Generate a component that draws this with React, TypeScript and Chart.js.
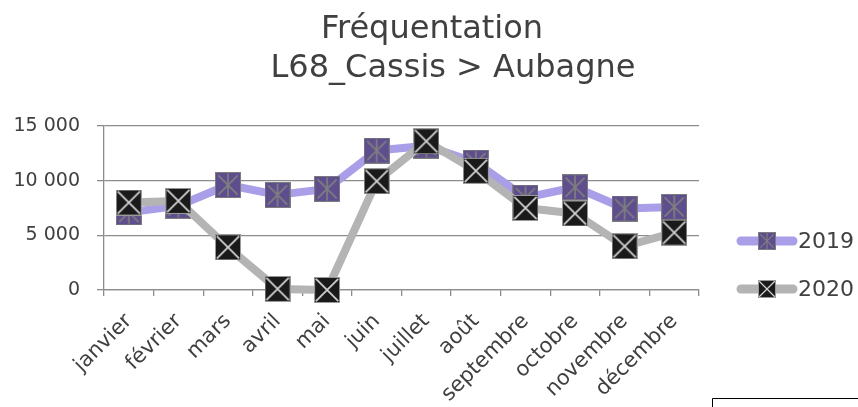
import React, { useEffect, useRef } from 'react';
import { Chart, registerables } from 'chart.js';

Chart.register(...registerables);

const months = ['janvier', 'février', 'mars', 'avril', 'mai', 'juin', 'juillet', 'août', 'septembre', 'octobre', 'novembre', 'décembre'];
const values2019 = [7100, 7700, 9600, 8700, 9250, 12750, 13200, 11650, 8450, 9400, 7450, 7600];
const values2020 = [8000, 8150, 3900, 100, 0, 9950, 13600, 10900, 7500, 7000, 4000, 5250];
const seriesNames = ['2019', '2020'];
const titleLines = ['Fréquentation', 'L68_Cassis > Aubagne'];
const yMin = 0;
const yMax = 15000;
const yStep = 5000;

const FONT = '"DejaVu Sans", sans-serif';
const TEXT = '#404040';
const GRID = '#8c8c8c';
const LINE_2019 = '#a99ee8';
const LINE_2020 = '#b4b4b4';

function makeMarker(size: number, fill: string, border: string, lineColor: string, star: boolean) {
  const c = document.createElement('canvas');
  c.width = size;
  c.height = size;
  const ctx = c.getContext('2d')!;
  ctx.fillStyle = fill;
  ctx.fillRect(0, 0, size, size);
  ctx.strokeStyle = border;
  ctx.lineWidth = 1;
  ctx.strokeRect(0.5, 0.5, size - 1, size - 1);
  ctx.strokeStyle = lineColor;
  ctx.lineWidth = Math.max(1, size / 15);
  const m = star ? size * 0.13 : size * 0.07;
  ctx.beginPath();
  ctx.moveTo(m, m);
  ctx.lineTo(size - m, size - m);
  ctx.moveTo(size - m, m);
  ctx.lineTo(m, size - m);
  if (star) {
    ctx.moveTo(size / 2, size * 0.06);
    ctx.lineTo(size / 2, size * 0.94);
  }
  ctx.stroke();
  return c;
}

function fmt(v: number) {
  return String(v).replace(/\B(?=(\d{3})+(?!\d))/g, ' ');
}

export default function App() {
  const ref = useRef<HTMLCanvasElement | null>(null);

  useEffect(() => {
    if (!ref.current) return;
    const m2019 = makeMarker(26, '#5e4e8e', '#7d7d7d', '#7f7f7f', true);
    const m2020 = makeMarker(26, '#1a1a1a', '#9a9a9a', '#d4d4d4', false);
    const l2019 = makeMarker(18, '#5e4e8e', '#7d7d7d', '#7f7f7f', true);
    const l2020 = makeMarker(18, '#1a1a1a', '#9a9a9a', '#d4d4d4', false);

    const decor = {
      id: 'decor',
      afterDraw(chart: any) {
        const ctx = chart.ctx;
        ctx.save();
        // title
        ctx.fillStyle = TEXT;
        ctx.font = `32px ${FONT}`;
        ctx.textAlign = 'center';
        ctx.textBaseline = 'alphabetic';
        ctx.fillText(titleLines[0], 432, 38);
        ctx.fillText(titleLines[1], 453, 77);
        // legend
        const items = [
          { name: seriesNames[0], color: LINE_2019, marker: l2019, y: 241 },
          { name: seriesNames[1], color: LINE_2020, marker: l2020, y: 289 },
        ];
        items.forEach((it) => {
          ctx.strokeStyle = it.color;
          ctx.lineWidth = 9;
          ctx.lineCap = 'round';
          ctx.beginPath();
          ctx.moveTo(741, it.y);
          ctx.lineTo(793, it.y);
          ctx.stroke();
          ctx.drawImage(it.marker, 767 - 9, it.y - 9, 18, 18);
          ctx.fillStyle = TEXT;
          ctx.font = `22px ${FONT}`;
          ctx.textAlign = 'left';
          ctx.textBaseline = 'middle';
          ctx.fillText(it.name, 798, it.y + 1);
        });
        // box at bottom right
        ctx.strokeStyle = '#000000';
        ctx.lineWidth = 1;
        ctx.lineCap = 'butt';
        ctx.beginPath();
        ctx.moveTo(712.5, 408);
        ctx.lineTo(712.5, 398.5);
        ctx.lineTo(860, 398.5);
        ctx.stroke();
        ctx.restore();
      },
    };

    const chart = new Chart(ref.current, {
      type: 'line',
      data: {
        labels: months,
        datasets: [
          {
            label: seriesNames[0],
            data: values2019,
            borderColor: LINE_2019,
            borderWidth: 8,
            borderJoinStyle: 'round',
            borderCapStyle: 'round',
            pointStyle: m2019 as any,
            pointRadius: 13,
            tension: 0,
            clip: false as any,
            order: 2,
          },
          {
            label: seriesNames[1],
            data: values2020,
            borderColor: LINE_2020,
            borderWidth: 8,
            borderJoinStyle: 'round',
            borderCapStyle: 'round',
            pointStyle: m2020 as any,
            pointRadius: 13,
            tension: 0,
            clip: false as any,
            order: 1,
          },
        ],
      },
      options: {
        responsive: false,
        animation: false,
        devicePixelRatio: 1,
        layout: { padding: { top: 126, right: 159, left: 0, bottom: 0 } },
        plugins: {
          legend: { display: false },
          title: { display: false },
          tooltip: { enabled: false },
        },
        scales: {
          x: {
            type: 'category',
            offset: true,
            grid: {
              offset: true,
              drawOnChartArea: false,
              drawTicks: true,
              tickLength: 6,
              color: GRID,
              lineWidth: 1.3,
            },
            border: { display: true, color: GRID, width: 1.3 },
            ticks: {
              color: TEXT,
              font: { family: FONT, size: 21 },
              minRotation: 45,
              maxRotation: 45,
              autoSkip: false,
              padding: 13,
            },
            afterFit: (scale: any) => {
              scale.height = 117;
            },
          },
          y: {
            min: yMin,
            max: yMax,
            grid: {
              color: GRID,
              lineWidth: 1.3,
              drawTicks: true,
              tickLength: 7,
            },
            border: { display: true, color: GRID, width: 1.3 },
            ticks: {
              stepSize: yStep,
              color: TEXT,
              font: { family: FONT, size: 19 },
              padding: 17,
              callback: (v: any) => fmt(Number(v)),
            },
            afterFit: (scale: any) => {
              scale.width = 104;
            },
          },
        },
      },
      plugins: [decor],
    });
    return () => chart.destroy();
  }, []);

  return (
    <div style={{ position: 'absolute', left: 0, top: 0, width: 858, height: 407, background: '#ffffff' }}>
      <canvas ref={ref} width={858} height={407} style={{ display: 'block' }} />
    </div>
  );
}
